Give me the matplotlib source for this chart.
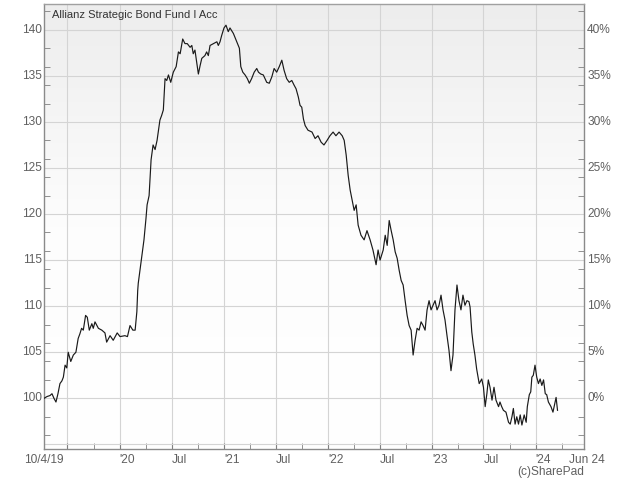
import numpy as np
import pandas as pd
import matplotlib
matplotlib.use("Agg")
import matplotlib.pyplot as plt
import matplotlib.dates as mdates
from matplotlib.colors import LinearSegmentedColormap
from matplotlib.transforms import blended_transform_factory

plt.rcParams['font.family'] = ['Liberation Sans', 'DejaVu Sans']

TITLE = "Allianz Strategic Bond Fund I Acc"
START = "2019-04-10"
END = "2024-06-18"

# days since START
days = [0, 11, 21, 28, 35, 42, 49, 56, 63, 68, 74, 80, 85, 94, 103, 112, 120, 126, 132, 138,
        146, 152, 159, 168, 173, 179, 191, 203, 214, 220, 232, 243, 257, 267, 284, 293, 302, 312,
        320, 326, 329, 331, 337, 344, 351, 358, 362, 369, 376, 383, 390, 397, 407, 413, 419, 425,
        431, 437, 445, 454, 464, 472, 478, 487, 495, 503, 513, 519, 524, 530, 536, 542, 548, 554,
        565, 571, 577, 583, 595, 607, 612, 618, 624, 632, 639, 647, 653, 665, 677, 686, 691, 698,
        706, 714, 721, 729, 738, 747, 753, 761, 770, 782, 791, 800, 808, 817, 826, 835, 843, 852,
        861, 870, 878, 885, 893, 899, 905, 911, 917, 927, 941, 952, 962, 973, 983, 994, 1004, 1015,
        1025, 1036, 1047, 1054, 1061, 1068, 1075, 1082, 1089, 1096, 1103, 1113, 1124, 1134, 1145,
        1155, 1166, 1173, 1180, 1191, 1198, 1205, 1212, 1219, 1226, 1233, 1240, 1247, 1254, 1261,
        1268, 1275, 1282, 1289, 1296, 1303, 1310, 1317, 1324, 1331, 1338, 1345, 1352, 1359, 1366,
        1373, 1380, 1387, 1394, 1401, 1408, 1415, 1422, 1429, 1436, 1443, 1450, 1457, 1464, 1471,
        1478, 1485, 1492, 1496, 1502, 1507, 1513, 1519, 1528, 1537, 1543, 1549, 1555, 1560, 1566,
        1573, 1580, 1587, 1596, 1601, 1607, 1613, 1622, 1631, 1637, 1643, 1648, 1654, 1660, 1666,
        1672, 1678, 1686, 1693, 1697, 1704, 1709, 1713, 1718, 1724, 1730, 1736, 1742, 1748, 1754,
        1760, 1765, 1771, 1780, 1787, 1791, 1798, 1803]

prices = [100.0, 100.2, 100.3, 100.5, 100.0, 99.6, 100.5, 101.6, 101.9, 102.3, 103.6, 103.3, 105.0,
          104.0, 104.7, 105.0, 106.5, 107.0, 107.6, 107.4, 109.0, 108.8, 107.4, 108.1, 107.6, 108.3,
          107.6, 107.4, 107.1, 106.1, 106.8, 106.3, 107.1, 106.7, 106.8, 106.7, 107.9, 107.4, 107.4,
          109.4, 111.7, 112.5, 113.9, 115.5, 117.2, 119.5, 121.0, 122.0, 125.9, 127.5, 127.0, 128.0,
          130.2, 130.7, 131.3, 134.7, 134.5, 135.1, 134.3, 135.4, 136.0, 137.6, 137.4, 139.0, 138.5,
          138.5, 138.1, 138.3, 137.4, 137.8, 136.5, 135.2, 136.1, 136.9, 137.2, 137.6, 137.2, 138.3,
          138.5, 138.7, 138.3, 138.7, 139.4, 140.2, 140.5, 139.8, 140.2, 139.6, 138.7, 138.0, 136.0,
          135.4, 135.1, 134.7, 134.2, 134.7, 135.4, 135.8, 135.4, 135.2, 135.1, 134.3, 134.2, 134.9,
          135.8, 135.4, 136.0, 136.7, 135.6, 134.7, 134.3, 134.5, 134.0, 133.6, 132.7, 131.8, 131.6,
          130.3, 129.6, 129.1, 128.9, 128.2, 128.5, 127.8, 127.5, 128.0, 128.5, 128.9, 128.5, 128.9,
          128.5, 128.0, 126.4, 124.2, 122.6, 121.5, 120.4, 121.0, 118.8, 117.7, 117.2, 118.2, 117.2,
          116.1, 114.5, 116.1, 115.0, 116.1, 117.7, 116.6, 119.3, 118.2, 117.2, 115.9, 115.2, 113.9,
          112.8, 112.3, 110.6, 109.0, 107.9, 107.4, 104.7, 106.3, 107.6, 107.4, 108.3, 107.9, 107.4,
          109.6, 110.6, 109.6, 110.1, 110.6, 109.6, 110.1, 111.2, 109.6, 108.5, 106.8, 105.2, 103.0,
          104.7, 109.6, 112.3, 110.6, 109.6, 111.2, 110.1, 110.6, 110.5, 109.9, 107.2, 105.9, 104.7,
          103.2, 101.6, 102.1, 101.2, 99.1, 100.5, 102.0, 101.2, 99.8, 101.2, 99.8, 99.1, 99.6, 99.1,
          98.7, 98.5, 97.4, 97.2, 98.0, 98.9, 97.2, 98.0, 97.2, 98.2, 97.1, 98.2, 97.4, 99.1, 100.4,
          100.7, 102.3, 102.5, 103.6, 102.3, 101.6, 102.1, 101.4, 102.0, 100.5, 100.4, 99.6, 99.1,
          98.5, 99.1, 100.1, 98.7]

y_labels_left = [100, 105, 110, 115, 120, 125, 130, 135, 140]
y_labels_right = ["0%", "5%", "10%", "15%", "20%", "25%", "30%", "35%", "40%"]
x_tick_labels = ["'20", "Jul", "'21", "Jul", "'22", "Jul", "'23", "Jul", "'24"]
x_tick_dates = ["2020-01-01", "2020-07-01", "2021-01-01", "2021-07-01", "2022-01-01",
                "2022-07-01", "2023-01-01", "2023-07-01", "2024-01-01"]

start = pd.Timestamp(START)
dates = start + pd.to_timedelta(days, unit="D")

fig = plt.figure(figsize=(6.4, 4.8), dpi=100)
ax = fig.add_axes([44 / 640, 31 / 480, 540 / 640, 445 / 480])

# gradient background
cmap = LinearSegmentedColormap.from_list("bg", ["#ffffff", "#fdfdfd", "#ededed"])
grad = np.linspace(0, 1, 256).reshape(-1, 1)
ax.imshow(grad, extent=[0, 1, 0, 1], transform=ax.transAxes, cmap=cmap,
          aspect="auto", origin="lower", zorder=0)

ax.plot(dates, prices, color="#1a1a1a", lw=0.85, zorder=3)

ax.set_xlim(start, pd.Timestamp(END))
ax.set_ylim(94.5, 142.8)

grid_c = "#d4d4d4"
ax.set_yticks(np.arange(95, 141, 5))
ax.set_yticks(np.arange(96, 143, 2), minor=True)
ax.yaxis.grid(True, which="major", color=grid_c, lw=0.8, zorder=1)
ax.xaxis.set_major_locator(mdates.MonthLocator(bymonth=[1, 7]))
ax.xaxis.set_minor_locator(mdates.MonthLocator(bymonth=[1, 4, 7, 10]))
ax.xaxis.grid(True, which="major", color=grid_c, lw=0.8, zorder=1)
ax.set_axisbelow(True)

ax.tick_params(axis="x", which="both", direction="in", length=4, color="#808080",
               labelbottom=False, top=False)
ax.tick_params(axis="y", which="major", length=0, labelleft=False)
ax.tick_params(axis="y", which="minor", direction="in", length=4, color="#808080",
               left=True, right=True)

for s in ax.spines.values():
    s.set_color("#8a8a8a")
    s.set_linewidth(1.0)
ax.spines["top"].set_color("#a0a0a0")

txt_c = "#606060"
fs = 8.6
ytrans = blended_transform_factory(ax.transAxes, ax.transData)
for v, rl in zip(y_labels_left, y_labels_right):
    ax.text(-0.003, v, str(v), transform=ytrans, ha="right", va="center",
            fontsize=fs, color=txt_c)
    ax.text(1.006, v, rl, transform=ytrans, ha="left", va="center",
            fontsize=fs, color=txt_c)

xtrans = blended_transform_factory(ax.transData, ax.transAxes)
for d, lab in zip(x_tick_dates, x_tick_labels):
    ax.text(mdates.date2num(pd.Timestamp(d)), -0.012, lab, transform=xtrans,
            ha="left", va="top", fontsize=fs, color=txt_c)
ax.text(0.0, -0.012, "10/4/19", transform=ax.transAxes, ha="center", va="top",
        fontsize=fs, color=txt_c)
ax.text(1.005, -0.012, "Jun 24", transform=ax.transAxes, ha="center", va="top",
        fontsize=fs, color=txt_c)
fig.text(584 / 640, 1 - 472 / 480, "(c)SharePad", ha="right", va="center",
         fontsize=fs, color=txt_c)

ax.text(0.015, 0.975, TITLE, transform=ax.transAxes, ha="left", va="center",
        fontsize=8, color="#333333")

fig.savefig("out.png", dpi=100)
